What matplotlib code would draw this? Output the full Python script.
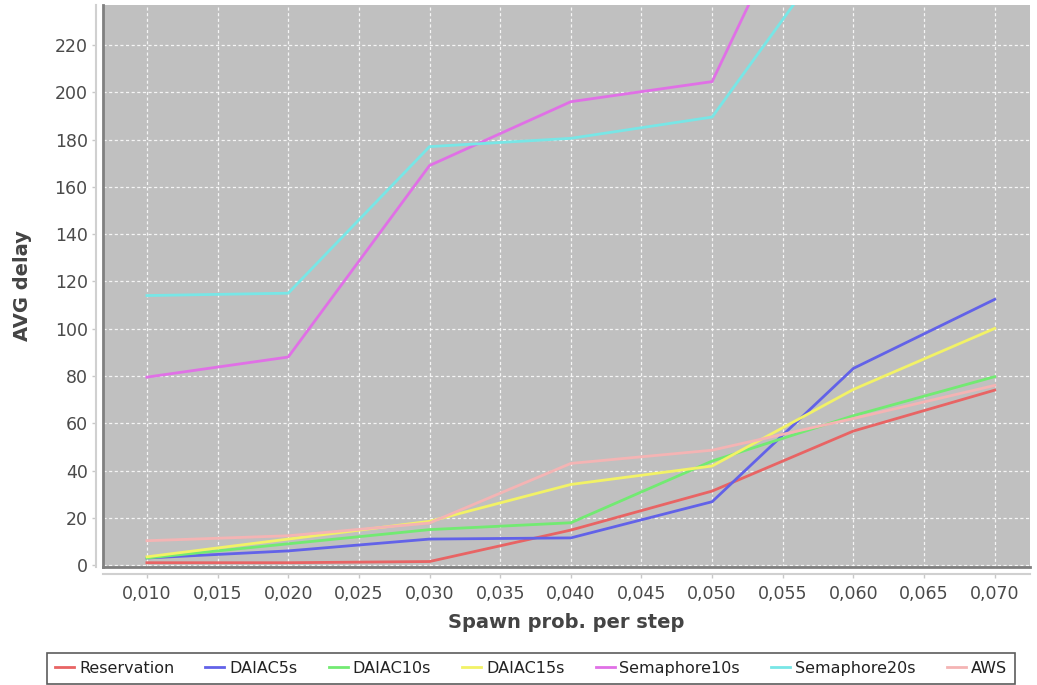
import numpy as np
import matplotlib
matplotlib.use("Agg")
import matplotlib.pyplot as plt
from matplotlib.lines import Line2D
from matplotlib.ticker import FuncFormatter

# spawn probability per step
spawn_prob = [0.010, 0.020, 0.030, 0.040, 0.050, 0.060, 0.070]

# average delay per strategy (the Semaphore values
# beyond 0.050 are off the top of the visible range, so they are estimates)
reservation = [1.0, 1.0, 1.5, 14.8, 31.3, 56.7, 74.0]
daiac5s = [3.0, 6.0, 11.0, 11.5, 26.8, 83.2, 112.4]
daiac10s = [3.0, 9.0, 15.0, 17.9, 44.0, 63.2, 79.7]
daiac15s = [3.5, 11.0, 18.5, 34.1, 41.9, 74.3, 100.1]
semaphore10s = [79.5, 88.0, 169.0, 196.0, 204.5, 330.0, 420.0]
semaphore20s = [114.0, 115.0, 177.0, 180.5, 189.5, 272.0, 330.0]
aws = [10.3, 12.4, 17.8, 43.0, 48.6, 62.0, 76.0]

series_names = ["Reservation", "DAIAC5s", "DAIAC10s", "DAIAC15s",
                "Semaphore10s", "Semaphore20s", "AWS"]
series_values = [reservation, daiac5s, daiac10s, daiac15s,
                 semaphore10s, semaphore20s, aws]
series_colors = ["#e86464", "#6262e8", "#72ea72", "#f2f266",
                 "#e070e6", "#78e6e6", "#f4b4b4"]

y_ticks = np.arange(0, 221, 20)
x_ticks = np.arange(0.010, 0.0701, 0.005)

fig = plt.figure(figsize=(10.37, 6.85), dpi=100)
ax = fig.add_axes([0.0993, 0.1723, 0.8940, 0.8204])
ax.set_facecolor("#c0c0c0")

for name, vals, col in zip(series_names, series_values, series_colors):
    ax.plot(spawn_prob, vals, color=col, linewidth=2, label=name)

ax.set_xlim(0.00689, 0.0725)
ax.set_ylim(-0.8, 236.9)
ax.set_xticks(x_ticks)
ax.set_yticks(y_ticks)
ax.xaxis.set_major_formatter(FuncFormatter(lambda v, p: f"{v:.3f}".replace(".", ",")))

ax.grid(True, color="white", linestyle=(0, (2.5, 2)), linewidth=0.9, alpha=0.85)
ax.set_axisbelow(True)

for s in ["top", "right"]:
    ax.spines[s].set_visible(False)
for s in ["left", "bottom"]:
    ax.spines[s].set_position(("outward", 5))
    ax.spines[s].set_color("#d0d0d0")
    ax.spines[s].set_linewidth(1.5)

# darker plot-area edges
ax.add_line(Line2D([0, 0], [0, 1], transform=ax.transAxes, color="#808080", linewidth=2, clip_on=False))
ax.add_line(Line2D([0, 1], [0, 0], transform=ax.transAxes, color="#808080", linewidth=2, clip_on=False))

ax.tick_params(axis="both", colors="#c8c8c8", labelcolor="#4a4a4a", labelsize=12.5, length=3, width=1)
ax.tick_params(axis="y", pad=3)
ax.tick_params(axis="x", pad=5)

ax.set_xlabel("Spawn prob. per step", fontsize=14, fontweight="bold", color="#444444", labelpad=7)
ax.set_ylabel("AVG delay", fontsize=14, fontweight="bold", color="#444444", labelpad=16)

leg = fig.legend(loc="lower center", bbox_to_anchor=(0.512, 0.002), ncol=7, fontsize=11.5,
                 frameon=True, fancybox=False, handlelength=1.2, handletextpad=0.3,
                 columnspacing=1.95, borderpad=0.5, borderaxespad=0.0, labelcolor="#222222")
leg.get_frame().set_edgecolor("#333333")
leg.get_frame().set_linewidth(1.2)

fig.savefig("out.png", dpi=100)
